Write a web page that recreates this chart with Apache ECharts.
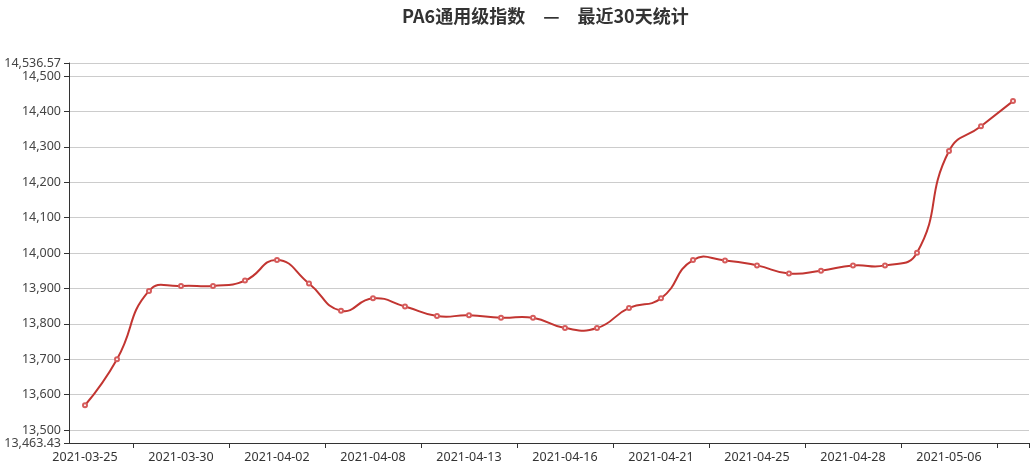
<!DOCTYPE html>
<html>
<head>
<meta charset="utf-8">
<script src="https://cdn.jsdelivr.net/npm/echarts@6/dist/echarts.min.js"></script>
<style>
html,body{margin:0;padding:0;background:#fff;}
#chart{width:1036px;height:469px;}
</style>
</head>
<body>
<div id="chart"></div>
<script>
var titleText = 'PA6通用级指数　—　最近30天统计';
var categories = ['2021-03-25','2021-03-26','2021-03-29','2021-03-30','2021-03-31','2021-04-01','2021-04-02','2021-04-06','2021-04-07','2021-04-08','2021-04-09','2021-04-12','2021-04-13','2021-04-14','2021-04-15','2021-04-16','2021-04-19','2021-04-20','2021-04-21','2021-04-22','2021-04-23','2021-04-25','2021-04-26','2021-04-27','2021-04-28','2021-04-29','2021-04-30','2021-05-06','2021-05-07','2021-05-08'];
var indexValues = [13570,13700,13893,13907,13907,13922,13980,13914,13837,13872,13849,13822,13824,13817,13817,13788,13788,13845,13872,13980,13979,13965,13942,13950,13965,13965,14001,14288,14358,14429];
var yMin = 13463.43;
var yMax = 14536.57;

var lineColor = '#c23531';

// Smooth curve through the data points (classic Catmull-Rom style smoothing), positioned via the chart's own axes
function renderCurve(params, api) {
  if (params.dataIndex !== 0) return null;
  var pts = indexValues.map(function (v, i) { return api.coord([i, v]); });
  var n = pts.length, smooth = 0.5;
  var minX = Infinity, minY = Infinity, maxX = -Infinity, maxY = -Infinity;
  pts.forEach(function (p) {
    minX = Math.min(minX, p[0]); maxX = Math.max(maxX, p[0]);
    minY = Math.min(minY, p[1]); maxY = Math.max(maxY, p[1]);
  });
  function clamp(c) {
    return [Math.max(minX, Math.min(maxX, c[0])), Math.max(minY, Math.min(maxY, c[1]))];
  }
  function dist(a, b) { var dx = a[0] - b[0], dy = a[1] - b[1]; return Math.sqrt(dx * dx + dy * dy); }
  var d = 'M' + pts[0][0] + ',' + pts[0][1];
  var cp0 = pts[0].slice();
  for (var i = 1; i < n; i++) {
    var p = pts[i], prev = pts[i - 1], next = pts[i + 1];
    var cp1, ratio = 0.5, v = null;
    if (!next) {
      cp1 = p.slice();
    } else {
      v = [next[0] - prev[0], next[1] - prev[1]];
      var lp = dist(p, prev), ln = dist(p, next);
      ratio = ln / (ln + lp);
      cp1 = [p[0] - v[0] * smooth * (1 - ratio), p[1] - v[1] * smooth * (1 - ratio)];
    }
    var c0 = clamp(cp0), c1 = clamp(cp1);
    d += ' C' + c0[0] + ',' + c0[1] + ' ' + c1[0] + ',' + c1[1] + ' ' + p[0] + ',' + p[1];
    if (v) cp0 = [p[0] + v[0] * smooth * ratio, p[1] + v[1] * smooth * ratio];
  }
  return {
    type: 'path',
    silent: true,
    shape: {pathData: d},
    style: {fill: 'none', stroke: lineColor, lineWidth: 2}
  };
}

var chart = echarts.init(document.getElementById('chart'));
var titleFont = '"Microsoft YaHei","Noto Sans CJK SC",sans-serif';
var labelFont = '"Noto Sans","Noto Sans CJK SC",sans-serif';
chart.setOption({
  animation: false,
  backgroundColor: '#fff',
  title: {
    text: titleText,
    left: 397,
    top: 2,
    textStyle: {fontSize: 18, fontWeight: 'bold', color: '#333', fontFamily: titleFont}
  },
  grid: {left: 69, right: 7, top: 63, bottom: 26, containLabel: false},
  xAxis: {
    type: 'category',
    data: categories,
    boundaryGap: true,
    axisLine: {show: true, lineStyle: {color: '#333', width: 1}},
    axisTick: {show: true, interval: function (i) { return i % 3 === 2; }, length: 5, lineStyle: {color: '#333'}},
    axisLabel: {interval: function (i) { return i % 3 === 0; }, color: '#333', fontSize: 12.5, fontFamily: labelFont, margin: 8},
    splitLine: {show: false}
  },
  yAxis: {
    type: 'value',
    min: yMin,
    max: yMax,
    splitNumber: 10,
    axisLine: {show: true, lineStyle: {color: '#333', width: 1}},
    axisTick: {show: true, length: 5, lineStyle: {color: '#333'}},
    axisLabel: {color: '#444', fontSize: 12.5, fontFamily: labelFont, margin: 8,
      showMinLabel: true, showMaxLabel: true},
    splitLine: {show: true, lineStyle: {color: '#ccc', width: 1}}
  },
  series: [{
    type: 'custom',
    name: 'curve',
    z: 2,
    data: indexValues.map(function (v, i) { return [i, v]; }),
    encode: {x: 0, y: 1},
    renderItem: renderCurve
  }, {
    type: 'line',
    z: 3,
    data: indexValues,
    symbol: 'emptyCircle',
    symbolSize: 4,
    showAllSymbol: true,
    itemStyle: {color: '#d65c5c', borderWidth: 1},
    lineStyle: {opacity: 0}
  }]
});
</script>
</body>
</html>
